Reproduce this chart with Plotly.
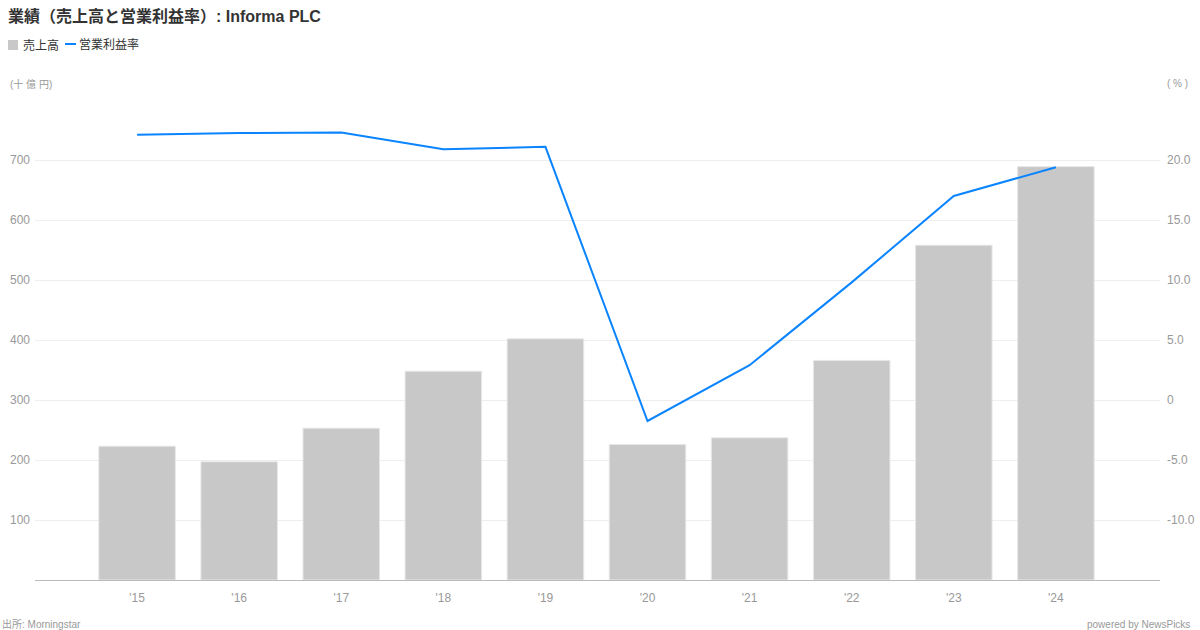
import plotly.graph_objects as go

years = ["'15", "'16", "'17", "'18", "'19", "'20", "'21", "'22", "'23", "'24"]
revenue = [223, 197, 253, 348, 402, 226, 237, 366, 558, 689]
op_margin = [22.1, 22.25, 22.3, 20.9, 21.1, -1.75, 2.9, 9.8, 17.0, 19.4]
left_ticks = [100, 200, 300, 400, 500, 600, 700]
right_ticks = [-10, -5, 0, 5, 10, 15, 20]
right_tick_text = ["-10.0", "-5.0", "0", "5.0", "10.0", "15.0", "20.0"]

FONT = "Liberation Sans, Noto Sans CJK JP, sans-serif"
GRAY = "#999999"
BAR_COLOR = "#c8c8c8"
LINE_COLOR = "#0a84ff"

W, H = 1200, 630
ML, MR, MT, MB = 35, 40, 100, 50
PW, PH = W - ML - MR, H - MT - MB


def px(x):
    return (x - ML) / PW


def py(y):
    return (H - MB - y) / PH


fig = go.Figure()
fig.add_trace(go.Bar(
    x=years, y=revenue, name="売上高",
    marker=dict(color=BAR_COLOR, line=dict(color="#e8e8e8", width=1)),
    width=0.75, yaxis="y",
))
fig.add_trace(go.Scatter(
    x=years, y=op_margin, name="営業利益率", mode="lines",
    line=dict(color=LINE_COLOR, width=2), yaxis="y2",
))

annotations = [
    dict(text="<b>業績（売上高と営業利益率）: Informa PLC</b>", x=6, y=16, xanchor="left",
         font=dict(size=16, color="#333333")),
    dict(text="売上高", x=21, y=45, xanchor="left", font=dict(size=12, color="#333333")),
    dict(text="営業利益率", x=77, y=45, xanchor="left", font=dict(size=12, color="#333333")),
    dict(text="(十 億 円)", x=8, y=84, xanchor="left", font=dict(size=10, color=GRAY)),
    dict(text="( % )", x=1190, y=84, xanchor="right", font=dict(size=10, color=GRAY)),
    dict(text="出所: Morningstar", x=0, y=624, xanchor="left", font=dict(size=10, color=GRAY)),
    dict(text="powered by NewsPicks", x=1192, y=624, xanchor="right", font=dict(size=10, color=GRAY)),
]
for a in annotations:
    a["x"] = px(a["x"])
    a["y"] = py(a["y"])
    a.update(xref="paper", yref="paper", showarrow=False, yanchor="middle")

shapes = [
    dict(type="rect", xref="paper", yref="paper", x0=px(8), x1=px(18), y0=py(40), y1=py(50),
         fillcolor=BAR_COLOR, line=dict(width=0)),
    dict(type="line", xref="paper", yref="paper", x0=px(65), x1=px(76), y0=py(44), y1=py(44),
         line=dict(color=LINE_COLOR, width=2)),
]

fig.update_layout(
    width=W, height=H,
    margin=dict(l=ML, r=MR, t=MT, b=MB, autoexpand=False),
    paper_bgcolor="white", plot_bgcolor="white",
    font=dict(family=FONT, size=12, color=GRAY),
    showlegend=False,
    xaxis=dict(type="category", range=[-1, 10.02], showgrid=False,
               showline=True, linecolor="#bbbbbb", linewidth=1,
               ticks="", tickfont=dict(size=12, color=GRAY), ticklabelstandoff=7,
               fixedrange=True),
    yaxis=dict(range=[0, 800], tickvals=left_ticks, showgrid=True,
               gridcolor="#eeeeee", gridwidth=1, zeroline=False,
               ticks="", tickfont=dict(size=12, color=GRAY), ticklabelstandoff=4),
    yaxis2=dict(range=[-15, 25], overlaying="y", side="right",
                tickvals=right_ticks, ticktext=right_tick_text,
                showgrid=False, zeroline=False, ticks="",
                tickfont=dict(size=12, color=GRAY), ticklabelstandoff=6),
    annotations=annotations,
    shapes=shapes,
)

fig.write_html("out.html", config={"displayModeBar": False},
               post_script="document.body.style.margin='0';")
